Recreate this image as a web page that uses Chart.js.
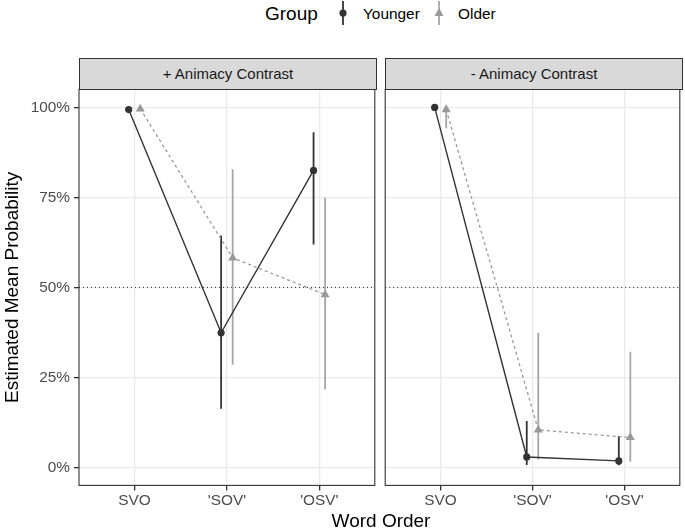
<!DOCTYPE html>
<html>
<head>
<meta charset="utf-8">
<script src="https://cdn.jsdelivr.net/npm/chart.js@4.4.0/dist/chart.umd.min.js"></script>
<style>
  body { margin: 0; background: #fff; font-family: "Liberation Sans", Arial, sans-serif; }
  #wrap { position: relative; width: 685px; height: 530px; overflow: hidden; }
  canvas { position: absolute; top: 0; }
  .txt { position: absolute; white-space: nowrap; }
  .strip { position: absolute; top: 58px; height: 32px; box-sizing: border-box; background: #d9d9d9;
           border: 1px solid #333; text-align: center; line-height: 30px; font-size: 15px; color: #1a1a1a; }
</style>
</head>
<body>
<div id="wrap">
  <div class="txt" style="left:265px;top:0;height:28px;line-height:28px;font-size:19px;color:#000">Group</div>
  <svg class="txt" style="left:333px;top:0" width="20" height="28">
    <line x1="10" y1="1" x2="10" y2="25" stroke="#333" stroke-width="1.8"/>
    <circle cx="10" cy="13" r="3.6" fill="#333"/>
  </svg>
  <div class="txt" style="left:363px;top:0;height:28px;line-height:28px;font-size:15.4px;color:#000">Younger</div>
  <svg class="txt" style="left:429px;top:0" width="20" height="28">
    <line x1="10" y1="1" x2="10" y2="25" stroke="#a6a6a6" stroke-width="1.8"/>
    <polygon points="10,8 14.5,16 5.5,16" fill="#999"/>
  </svg>
  <div class="txt" style="left:458px;top:0;height:28px;line-height:28px;font-size:15.4px;color:#000">Older</div>

  <canvas id="c1" width="380" height="530" style="left:0"></canvas>
  <canvas id="c2" width="305" height="530" style="left:380px"></canvas>

  <div class="strip" style="left:79px;width:298px">+ Animacy Contrast</div>
  <div class="strip" style="left:385px;width:298px">- Animacy Contrast</div>

  <div class="txt" style="left:0;width:762px;top:509px;height:24px;line-height:24px;text-align:center;font-size:19px;color:#000">Word Order</div>
</div>

<script>
const cats = ['SVO', "'SOV'", "'OSV'"];
const yTicks = [0, 25, 50, 75, 100];

// + Animacy Contrast
const youngerPlus   = [99.4, 37.4, 82.5];
const youngerPlusLo = [99.0, 16.3, 61.9];
const youngerPlusHi = [99.8, 64.4, 93.1];
const olderPlus     = [99.6, 58.2, 48.0];
const olderPlusLo   = [99.2, 28.5, 21.7];
const olderPlusHi   = [99.9, 82.8, 74.9];

// - Animacy Contrast
const youngerMinus   = [100, 2.9, 1.8];
const youngerMinusLo = [99.8, 0.7, 0.6];
const youngerMinusHi = [100, 12.9, 8.7];
const olderMinus     = [99.4, 10.4, 8.3];
const olderMinusLo   = [94.2, 2.2, 1.6];
const olderMinusHi   = [100, 37.4, 32.1];

const refLine = 50;
const dodge = 0.0625;

const FONT = '"Liberation Sans", Arial, sans-serif';
const YOUNG = '#333333';
const OLD = '#999999';
const OLD_BAR = '#a6a6a6';

const panelBorder = {
    id: 'panelBorder',
    afterDatasetsDraw(chart) {
        const a = chart.chartArea, ctx = chart.ctx;
        ctx.save();
        ctx.strokeStyle = '#333';
        ctx.lineWidth = 1.1;
        ctx.strokeRect(a.left, a.top, a.width, a.height);
        ctx.restore();
    }
};

function errorBars(vals, lo, hi, shift, color) {
    return vals.map((v, i) => ({
        data: [{x: i + 1 + shift, y: lo[i]}, {x: i + 1 + shift, y: hi[i]}],
        showLine: true,
        borderColor: color,
        borderWidth: 1.8,
        pointRadius: 0,
        order: 3
    }));
}

function createPanel(id, young, yLo, yHi, old, oLo, oHi, showY, padLeft, padRight) {
    const datasets = [
        {
            data: [{x: 0.4, y: refLine}, {x: 3.6, y: refLine}],
            showLine: true,
            borderColor: '#333',
            borderWidth: 1,
            borderDash: [1, 3],
            pointRadius: 0,
            order: 6
        },
        ...errorBars(old, oLo, oHi, dodge, OLD_BAR),
        ...errorBars(young, yLo, yHi, -dodge, YOUNG),
        {
            data: old.map((v, i) => ({x: i + 1 + dodge, y: v})),
            showLine: true,
            borderColor: OLD,
            backgroundColor: OLD,
            borderWidth: 1.3,
            borderDash: [3, 3],
            pointStyle: 'triangle',
            pointRadius: 5.2,
            pointBorderWidth: 0,
            order: 2
        },
        {
            data: young.map((v, i) => ({x: i + 1 - dodge, y: v})),
            showLine: true,
            borderColor: YOUNG,
            backgroundColor: YOUNG,
            borderWidth: 1.4,
            pointStyle: 'circle',
            pointRadius: 3.6,
            pointBorderWidth: 0,
            order: 1
        }
    ];

    new Chart(document.getElementById(id), {
        type: 'scatter',
        data: { datasets: datasets },
        plugins: [panelBorder],
        options: {
            responsive: false,
            animation: false,
            devicePixelRatio: 1,
            layout: { padding: { top: 89.4, bottom: 0, left: padLeft, right: padRight } },
            plugins: { legend: { display: false }, tooltip: { enabled: false } },
            scales: {
                x: {
                    type: 'linear',
                    min: 0.4,
                    max: 3.6,
                    afterBuildTicks: s => { s.ticks = [1, 2, 3].map(v => ({value: v})); },
                    afterFit: s => { s.height = 44.6; },
                    ticks: {
                        autoSkip: false,
                        maxRotation: 0,
                        padding: 1,
                        color: '#4d4d4d',
                        font: { family: FONT, size: 15.4 },
                        callback: v => cats[Math.round(v) - 1]
                    },
                    grid: { color: '#ebebeb', lineWidth: 1.3, tickColor: '#333', tickLength: 5 },
                    border: { display: false }
                },
                y: {
                    min: -5,
                    max: 105,
                    afterBuildTicks: s => { s.ticks = yTicks.map(v => ({value: v})); },
                    afterFit: s => { s.width = showY ? 79 : 0; },
                    title: {
                        display: showY,
                        text: 'Estimated Mean Probability',
                        color: '#000',
                        font: { family: FONT, size: 19 },
                        padding: { top: 1, bottom: 0 }
                    },
                    ticks: {
                        display: showY,
                        padding: 4,
                        color: '#4d4d4d',
                        font: { family: FONT, size: 15.4 },
                        callback: v => v + '%'
                    },
                    grid: { color: '#ebebeb', lineWidth: 1.3, tickColor: '#333', tickLength: 5, drawTicks: showY },
                    border: { display: false }
                }
            }
        }
    });
}

createPanel('c1', youngerPlus, youngerPlusLo, youngerPlusHi, olderPlus, olderPlusLo, olderPlusHi, true, 0, 4);
createPanel('c2', youngerMinus, youngerMinusLo, youngerMinusHi, olderMinus, olderMinusLo, olderMinusHi, false, 5.2, 2.2);
</script>
</body>
</html>
